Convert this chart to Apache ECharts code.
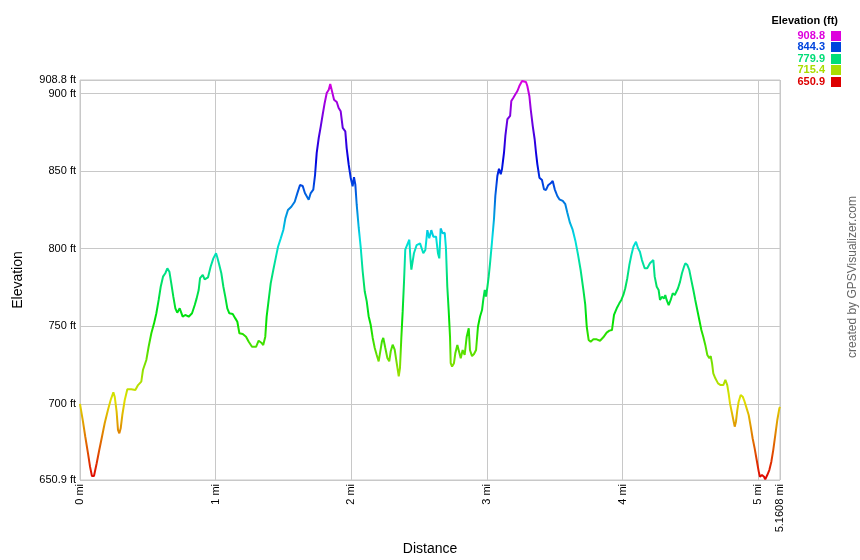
<!DOCTYPE html>
<html>
<head>
<meta charset="utf-8">
<script src="https://cdn.jsdelivr.net/npm/echarts@6/dist/echarts.min.js"></script>
<style>
html,body{margin:0;padding:0;background:#fff;}
#chart{width:860px;height:560px;}
</style>
</head>
<body>
<div id="chart"></div>
<script>
// Distance (mi)
const distances = [0,0.022,0.039,0.059,0.074,0.088,0.103,0.123,0.142,0.162,0.182,0.206,0.226,0.246,0.256,0.27,0.28,0.29,0.30,0.312,0.33,0.349,0.378,0.408,0.428,0.452,0.464,0.489,0.506,0.526,0.546,0.563,0.58,0.595,0.612,0.629,0.644,0.659,0.673,0.688,0.703,0.717,0.735,0.757,0.776,0.801,0.826,0.846,0.86,0.875,0.885,0.905,0.919,0.944,0.963,0.983,1.003,1.012,1.027,1.042,1.057,1.071,1.086,1.101,1.126,1.145,1.16,1.175,1.2,1.224,1.244,1.268,1.298,1.317,1.337,1.351,1.366,1.376,1.391,1.406,1.425,1.445,1.46,1.48,1.499,1.514,1.533,1.558,1.583,1.602,1.622,1.642,1.658,1.686,1.701,1.72,1.733,1.745,1.76,1.775,1.789,1.804,1.819,1.834,1.845,1.858,1.873,1.893,1.907,1.922,1.937,1.956,1.966,1.981,1.996,2.01,2.02,2.03,2.04,2.055,2.07,2.084,2.099,2.114,2.128,2.143,2.158,2.173,2.187,2.202,2.212,2.226,2.236,2.251,2.266,2.28,2.291,2.305,2.32,2.335,2.35,2.359,2.369,2.379,2.389,2.398,2.413,2.428,2.436,2.443,2.462,2.482,2.507,2.519,2.531,2.546,2.561,2.575,2.59,2.605,2.625,2.639,2.649,2.659,2.674,2.689,2.698,2.708,2.718,2.728,2.733,2.743,2.757,2.767,2.782,2.796,2.807,2.821,2.836,2.851,2.866,2.875,2.89,2.905,2.92,2.934,2.949,2.964,2.973,2.984,2.993,3.003,3.013,3.023,3.037,3.052,3.062,3.077,3.089,3.102,3.111,3.126,3.136,3.151,3.171,3.18,3.195,3.21,3.225,3.239,3.259,3.273,3.288,3.298,3.313,3.323,3.338,3.352,3.362,3.372,3.387,3.406,3.421,3.436,3.451,3.47,3.485,3.5,3.519,3.534,3.559,3.578,3.593,3.612,3.632,3.652,3.671,3.691,3.711,3.725,3.736,3.75,3.765,3.785,3.809,3.834,3.858,3.883,3.903,3.922,3.937,3.957,3.976,3.991,4.006,4.02,4.035,4.05,4.065,4.08,4.099,4.114,4.128,4.143,4.163,4.182,4.202,4.227,4.237,4.252,4.266,4.276,4.291,4.306,4.315,4.325,4.34,4.355,4.37,4.385,4.399,4.409,4.424,4.438,4.453,4.463,4.478,4.492,4.507,4.522,4.536,4.551,4.566,4.581,4.595,4.61,4.625,4.64,4.65,4.66,4.669,4.684,4.704,4.723,4.743,4.758,4.772,4.782,4.792,4.807,4.817,4.827,4.836,4.846,4.856,4.871,4.886,4.9,4.915,4.93,4.945,4.959,4.974,4.989,5.004,5.013,5.028,5.043,5.052,5.067,5.082,5.097,5.111,5.126,5.141,5.156,5.1608];
// Elevation (ft)
const elevations = [700,688.5,678.8,668.1,659.5,653.5,653.5,661.7,670.2,678.8,687.5,696,702.5,707.4,704.6,695,683.2,681,684.2,692.8,702.5,709.4,709.4,708.9,712.1,714.3,721.8,728.3,736.8,745.5,751.9,758.4,767,775.5,782,784.2,787.4,785.2,777.7,769.1,761.6,758.8,761.6,756.2,757.3,756.2,758.4,763.7,768,773.4,781,783.1,780.3,781.6,788.4,793.8,797.1,794.5,789.5,784.2,775.5,769.1,761.6,758.4,757.9,755.1,752.9,745.5,745,743.3,740,736.8,736.8,740.7,739.4,737.9,743.3,756.2,767,777.7,786.3,794.9,801.3,806.7,812.1,819.6,825,827.1,830.3,835.7,841.1,840.5,835.9,831.6,835.9,838.1,847.7,861.7,871.4,878.9,886.4,894,900.4,902.5,906.2,901.5,896.1,894.6,890.7,888.6,877.9,875.7,864.9,854.2,845.6,840.3,846.1,841.3,828.4,813.4,800.5,785.5,772.6,766.1,756.5,751,742.5,736,731.7,727.4,726.3,740.3,742.5,736,729.6,727.4,733.9,738.1,734.9,726.3,717.8,723.1,742.5,759.6,779,799.4,802.6,805.8,794,786.5,797.1,802.4,803.5,804.5,797.1,799.2,812,806.7,812,807.8,807.8,797.1,793.8,813.1,809.9,810.3,800.3,775.5,760.5,743.3,726.2,724,726.2,732.6,738,739,729.4,734.7,731.5,743.3,748.7,734.7,730.8,732.1,734.7,749.7,756.2,760.5,767,773.4,769.1,775,782,790.6,803.9,819,834,846.9,851.6,848,851.2,861.9,872.7,883.5,885.6,895.3,897.4,899.6,901.7,904.9,908.2,907.1,907.5,904.9,898.5,889.9,879.1,870.6,861.9,854.4,845.8,844.3,838.3,837.9,840.9,842.2,843.7,838.3,834,831.9,830.8,828.7,823.2,816.8,812.3,805.2,796.5,786.3,773.6,763.9,749.7,741.2,740.1,741.6,741.6,740.7,742.9,745.9,747.2,747.6,757.3,761.6,764.8,767,770.2,774.5,781,789.5,796,801.3,804.5,800.3,798.1,792.7,787.4,787.4,790.6,792.7,782,775.5,773.4,767,769.1,768,770.2,767,763.7,767,771.3,770.2,769.1,774.5,778.8,784.2,788.4,790.6,789.5,786.3,779.8,773.4,767,760.5,754.1,747.6,743.3,738,731.5,729.4,730.8,726.1,719.7,716.5,713.2,712.1,712.1,715.4,712.1,706.8,700.3,693.9,689.6,685.3,688.5,696,701.4,705.7,704.6,701.4,697.1,692.8,685.3,677.8,671.3,663.8,656.3,653,654.1,653,651.3,654.1,657.3,662.7,670.2,679.9,689.6,697.1,698];

const yTicks = [650.9, 700, 750, 800, 850, 900, 908.8];
const xTicks = [0, 1, 2, 3, 4, 5, 5.1608];
const legendValues = ['908.8', '844.3', '779.9', '715.4', '650.9'];
const legendColors = ['#dd00dd', '#0044dd', '#00dd77', '#aadd00', '#dd0000'];
const rampColors = ['#e00000','#e07000','#e0e000','#70e000','#00e000','#00e070','#00e0e0','#0070e0','#0000e0','#7000e0','#e000e0'];

const data = distances.map((d, i) => [d, elevations[i]]);
const FONT = 'Liberation Sans, Arial, sans-serif';

const graphics = [
  { type: 'text', right: 22, top: 15, style: { text: 'Elevation (ft)', font: 'bold 11px ' + FONT, fill: '#000' } },
  { type: 'text', rotation: Math.PI / 2, x: 853, y: 277,
    style: { text: 'created by GPSVisualizer.com', font: '12px ' + FONT, fill: '#666', align: 'center', verticalAlign: 'middle' } }
];
legendValues.forEach((v, i) => {
  const cy = 35.5 + i * 11.6;
  graphics.push({ type: 'text', x: 825, y: cy,
    style: { text: v, font: 'bold 11px ' + FONT, fill: legendColors[i], align: 'right', verticalAlign: 'middle' } });
  graphics.push({ type: 'rect', shape: { x: 831, y: Math.round(cy - 5), width: 10, height: 10 },
    style: { fill: legendColors[i] } });
});

const chart = echarts.init(document.getElementById('chart'), null, { renderer: 'canvas' });
chart.setOption({
  animation: false,
  backgroundColor: '#fff',
  textStyle: { fontFamily: FONT },
  grid: { left: 80, top: 80, right: 80, bottom: 80, show: true, borderColor: '#c8c8c8', borderWidth: 1,
    containLabel: false, outerBoundsMode: 'none' },
  xAxis: {
    type: 'value', min: 0, max: 5.1608,
    name: 'Distance', nameLocation: 'middle', nameGap: 62,
    nameTextStyle: { fontSize: 14, color: '#000', fontFamily: FONT },
    axisLine: { show: false },
    axisTick: { show: false, customValues: xTicks },
    axisLabel: { customValues: xTicks, rotate: 90, fontSize: 11, color: '#000', margin: 4,
      formatter: v => v + ' mi' },
    splitLine: { show: true, lineStyle: { color: '#c8c8c8', width: 1 } }
  },
  yAxis: {
    type: 'value', min: 650.9, max: 908.8,
    name: 'Elevation', nameLocation: 'middle', nameGap: 55, nameRotate: 90,
    nameTextStyle: { fontSize: 14, color: '#000', fontFamily: FONT },
    axisLine: { show: false },
    axisTick: { show: false, customValues: yTicks },
    axisLabel: { customValues: yTicks, fontSize: 11, color: '#000', margin: 4,
      formatter: v => v + ' ft' },
    splitLine: { show: true, lineStyle: { color: '#c8c8c8', width: 1 } }
  },
  visualMap: {
    show: false, type: 'continuous', dimension: 1, seriesIndex: 0,
    min: 650.9, max: 908.8,
    inRange: { color: rampColors }
  },
  series: [{
    type: 'line', data: data, showSymbol: false, symbol: 'none',
    lineStyle: { width: 2 }
  }],
  graphic: graphics
});
</script>
</body>
</html>
